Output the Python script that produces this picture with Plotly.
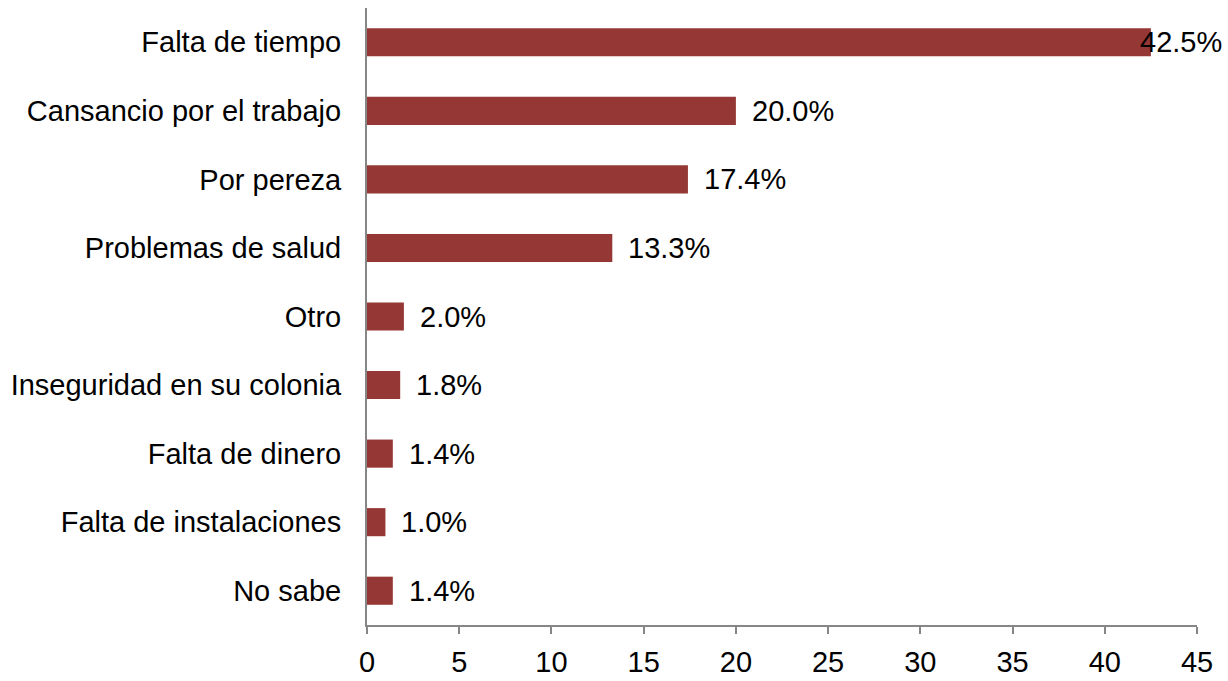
import plotly.graph_objects as go

# Reasons given for not exercising (percent of respondents)
categories = [
    "Falta de tiempo",
    "Cansancio por el trabajo",
    "Por pereza",
    "Problemas de salud",
    "Otro",
    "Inseguridad en su colonia",
    "Falta de dinero",
    "Falta de instalaciones",
    "No sabe",
]
values = [42.5, 20.0, 17.4, 13.3, 2.0, 1.8, 1.4, 1.0, 1.4]
x_ticks = [0, 5, 10, 15, 20, 25, 30, 35, 40, 45]

FONT = "Liberation Sans, Arial, sans-serif"
FONT_SIZE = 29
BAR_COLOR = "#953735"
AXIS_COLOR = "#868686"
X_MAX = 45

fig = go.Figure(
    go.Bar(
        x=values,
        y=categories,
        orientation="h",
        marker=dict(color=BAR_COLOR, line=dict(width=0)),
        hoverinfo="x+y",
    )
)

# Value labels just past the end of each bar; a label that would run past
# the chart edge is pulled back to sit against it.
annotations = []
for cat, val in zip(categories, values):
    label = f"{val:.1f}%"
    if val > 40:
        annotations.append(dict(
            x=1, xref="paper", y=cat, yref="y", text=label,
            xanchor="right", xshift=27, showarrow=False,
            font=dict(family=FONT, size=FONT_SIZE, color="#000000"),
        ))
    else:
        annotations.append(dict(
            x=val, xref="x", y=cat, yref="y", text=label,
            xanchor="left", xshift=14, showarrow=False,
            font=dict(family=FONT, size=FONT_SIZE, color="#000000"),
        ))

fig.update_layout(
    width=1228,
    height=681,
    margin=dict(l=367, r=31, t=8, b=56),
    paper_bgcolor="#ffffff",
    plot_bgcolor="#ffffff",
    bargap=0.59,
    showlegend=False,
    annotations=annotations,
    font=dict(family=FONT, size=FONT_SIZE, color="#000000"),
    xaxis=dict(
        range=[0, X_MAX],
        tickvals=x_ticks,
        ticktext=[str(t) for t in x_ticks],
        showgrid=False,
        zeroline=False,
        showline=True,
        linecolor=AXIS_COLOR,
        linewidth=2,
        ticks="outside",
        ticklen=7,
        tickwidth=2,
        tickcolor=AXIS_COLOR,
        ticklabelstandoff=3,
        tickfont=dict(family=FONT, size=FONT_SIZE, color="#000000"),
        automargin=False,
        fixedrange=True,
    ),
    yaxis=dict(
        categoryorder="array",
        categoryarray=categories,
        autorange="reversed",
        showgrid=False,
        zeroline=False,
        showline=True,
        linecolor=AXIS_COLOR,
        linewidth=2,
        ticks="",
        ticklabelstandoff=18,
        tickfont=dict(family=FONT, size=FONT_SIZE, color="#000000"),
        automargin=False,
        fixedrange=True,
    ),
)

fig.write_html("out.html", config={"displayModeBar": False})
